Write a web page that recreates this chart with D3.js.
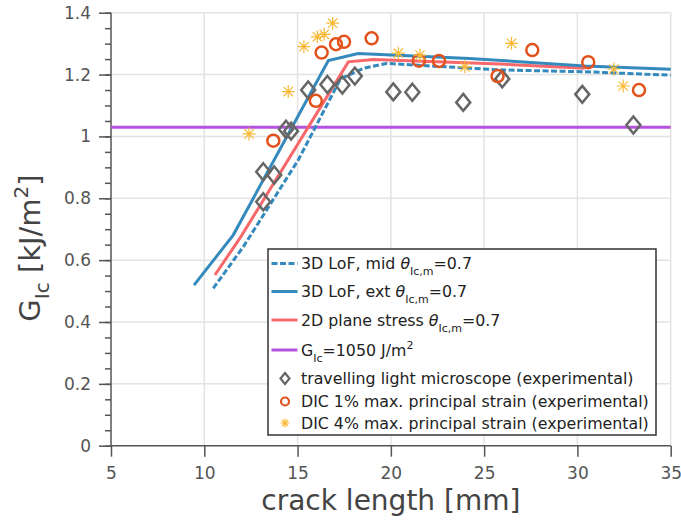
<!DOCTYPE html>
<html>
<head>
<meta charset="utf-8">
<script src="https://cdn.jsdelivr.net/npm/d3@7"></script>
<style>
  body { margin: 0; background: #fff; }
  svg { display: block; font-family: "DejaVu Sans", sans-serif; }
</style>
</head>
<body>
<div id="chart"></div>
<script>
// model curves (crack length in mm, G in kJ/m^2)
const midX = [10.48, 12.09, 15.04, 17.3, 18.52, 19.77, 25.85, 30.4, 35];
const midY = [0.509, 0.643, 0.924, 1.186, 1.220, 1.236, 1.215, 1.209, 1.198];
const extX = [9.45, 11.55, 16.65, 18.25, 24.2, 30.4, 35];
const extY = [0.519, 0.681, 1.245, 1.268, 1.252, 1.228, 1.217];
const psX = [10.57, 11.91, 17.72, 19.06, 25.85, 30.4];
const psY = [0.552, 0.671, 1.241, 1.249, 1.234, 1.220];
const gicValue = 1.03;

// experiments
const tlmX = [13.16, 13.16, 13.75, 14.38, 14.65, 15.57, 16.6, 17.4, 18.07, 20.13, 21.15, 23.88, 25.97, 30.26, 33.0];
const tlmY = [0.789, 0.886, 0.875, 1.023, 1.017, 1.150, 1.168, 1.166, 1.195, 1.144, 1.143, 1.110, 1.186, 1.136, 1.037];
const dic1X = [13.7, 15.98, 16.29, 17.06, 17.49, 18.97, 21.5, 22.58, 25.72, 27.58, 30.58, 33.3];
const dic1Y = [0.986, 1.115, 1.271, 1.298, 1.306, 1.317, 1.245, 1.244, 1.195, 1.279, 1.240, 1.150];
const dic4X = [12.4, 14.5, 15.34, 16.06, 16.43, 16.88, 20.4, 21.56, 23.97, 26.47, 31.95, 32.45];
const dic4Y = [1.008, 1.145, 1.290, 1.322, 1.330, 1.366, 1.269, 1.263, 1.225, 1.301, 1.218, 1.163];

const xTicks = [5, 10, 15, 20, 25, 30, 35];
const yTicks = [0, 0.2, 0.4, 0.6, 0.8, 1, 1.2, 1.4];

const W = 681, H = 520;
const blue = "#348abd", red = "#f8676a", purple = "#b452de",
      gray = "#666666", orange = "#e2521d", gold = "#f9b935";

const svg = d3.select("#chart").append("svg")
    .attr("width", W).attr("height", H);

const x = d3.scaleLinear().domain([5, 35]).range([111, 670.7]);
const y = d3.scaleLinear().domain([0, 1.4]).range([445.7, 12.7]);

// grid
svg.append("g").selectAll("line").data(xTicks.slice(1)).join("line")
    .attr("x1", d => x(d)).attr("x2", d => x(d))
    .attr("y1", y(0)).attr("y2", y(1.4))
    .attr("stroke", "#e3e3e3").attr("stroke-width", 1.5);
svg.append("g").selectAll("line").data(yTicks.slice(1)).join("line")
    .attr("x1", x(5)).attr("x2", x(35))
    .attr("y1", d => y(d)).attr("y2", d => y(d))
    .attr("stroke", "#e3e3e3").attr("stroke-width", 1.5);

// axes
const axisColor = "#555";
const xAxis = svg.append("g")
    .attr("transform", `translate(0,${y(0)})`)
    .call(d3.axisBottom(x).tickValues(xTicks).tickSize(11).tickPadding(10).tickFormat(d3.format("d")));
const yMinor = svg.append("g")
    .attr("transform", `translate(${x(5)},0)`)
    .call(d3.axisLeft(y).tickValues(d3.range(0, 1.401, 0.05)).tickSize(6).tickFormat(""));
yMinor.select(".domain").remove();
const yAxis = svg.append("g")
    .attr("transform", `translate(${x(5)},0)`)
    .call(d3.axisLeft(y).tickValues(yTicks).tickSize(12).tickPadding(8).tickFormat(d => d3.format("")(+d.toFixed(1))));
[xAxis, yAxis, yMinor].forEach(g => {
    g.selectAll("path, line").attr("stroke", axisColor).attr("stroke-width", 1.5);
    g.selectAll("text").attr("fill", "#555").style("font-size", "17px")
        .style("font-family", "DejaVu Sans, sans-serif");
});
xAxis.select(".domain").attr("d", `M${x(5)},0H${x(35)}`);
yAxis.select(".domain").attr("d", `M0,${y(0)}V${y(1.4)}`);

// axis labels
svg.append("text")
    .attr("x", (x(5) + x(35)) / 2).attr("y", 510)
    .attr("text-anchor", "middle").attr("fill", "#444")
    .style("font-size", "28px").text("crack length [mm]");

const yl = svg.append("text")
    .attr("transform", `translate(40,248) rotate(-90)`)
    .attr("text-anchor", "middle").attr("fill", "#444")
    .style("font-size", "29px");
yl.append("tspan").text("G");
yl.append("tspan").attr("dy", 9).style("font-size", "20px").text("Ic");
yl.append("tspan").attr("dy", -9).text(" [kJ/m");
yl.append("tspan").attr("dy", -12).style("font-size", "20px").text("2");
yl.append("tspan").attr("dy", 12).text("]");

// curves
const line = d3.line().x(d => x(d[0])).y(d => y(d[1]));
const zip = (a, b) => a.map((v, i) => [v, b[i]]);

svg.append("line")
    .attr("x1", x(5)).attr("x2", x(35))
    .attr("y1", y(gicValue)).attr("y2", y(gicValue))
    .attr("stroke", purple).attr("stroke-width", 3);

svg.append("path").datum(zip(psX, psY)).attr("d", line)
    .attr("fill", "none").attr("stroke", red).attr("stroke-width", 3);
svg.append("path").datum(zip(midX, midY)).attr("d", line)
    .attr("fill", "none").attr("stroke", blue).attr("stroke-width", 3)
    .attr("stroke-dasharray", "6,2.5");
svg.append("path").datum(zip(extX, extY)).attr("d", line)
    .attr("fill", "none").attr("stroke", blue).attr("stroke-width", 3);

// markers
function diamond(g, cx, cy) {
    g.append("path")
        .attr("d", `M${cx},${cy - 8.5}L${cx + 7},${cy}L${cx},${cy + 8.5}L${cx - 7},${cy}Z`)
        .attr("fill", "none").attr("stroke", gray).attr("stroke-width", 2.5);
}
function circle(g, cx, cy) {
    g.append("circle").attr("cx", cx).attr("cy", cy).attr("r", 6)
        .attr("fill", "none").attr("stroke", orange).attr("stroke-width", 2.5);
}
function star(g, cx, cy, r = 6.5) {
    const d = r * 0.72;
    g.append("path")
        .attr("d", `M${cx - r},${cy}H${cx + r}M${cx},${cy - r}V${cy + r}` +
                   `M${cx - d},${cy - d}L${cx + d},${cy + d}M${cx - d},${cy + d}L${cx + d},${cy - d}`)
        .attr("stroke", gold).attr("stroke-width", 1.2).attr("fill", "none");
}

const mk = svg.append("g");
tlmX.forEach((v, i) => diamond(mk, x(v), y(tlmY[i])));
dic1X.forEach((v, i) => circle(mk, x(v), y(dic1Y[i])));
dic4X.forEach((v, i) => star(mk, x(v), y(dic4Y[i])));

// legend
const lg = svg.append("g");
lg.append("rect").attr("x", 268).attr("y", 249).attr("width", 388).attr("height", 186)
    .attr("fill", "#fff").attr("stroke", "#333").attr("stroke-width", 1.5);

const legendRows = [
    { y: 263.5, kind: "dash", parts: [["3D LoF, mid ", ""], ["θ", "it"], ["Ic,m", "sub"], ["=0.7", ""]] },
    { y: 291.5, kind: "solid", parts: [["3D LoF, ext ", ""], ["θ", "it"], ["Ic,m", "sub"], ["=0.7", ""]] },
    { y: 320, kind: "red", parts: [["2D plane stress ", ""], ["θ", "it"], ["Ic,m", "sub"], ["=0.7", ""]] },
    { y: 350, kind: "purple", parts: [["G", ""], ["Ic", "sub"], ["=1050 J/m", ""], ["2", "sup"]] },
    { y: 378.5, kind: "diamond", parts: [["travelling light microscope (experimental)", ""]] },
    { y: 401.5, kind: "circle", parts: [["DIC 1% max. principal strain (experimental)", ""]] },
    { y: 423, kind: "star", parts: [["DIC 4% max. principal strain (experimental)", ""]] }
];

legendRows.forEach(r => {
    const x0 = 271.5, x1 = 297.5, mx = 285;
    if (r.kind === "dash" || r.kind === "solid" || r.kind === "red" || r.kind === "purple") {
        lg.append("line").attr("x1", x0).attr("x2", x1).attr("y1", r.y).attr("y2", r.y)
            .attr("stroke", r.kind === "red" ? red : r.kind === "purple" ? purple : blue)
            .attr("stroke-width", 3)
            .attr("stroke-dasharray", r.kind === "dash" ? "6,2.5" : null);
    } else if (r.kind === "diamond") {
        lg.append("path").attr("d", `M${mx},${r.y - 5.5}L${mx + 4.5},${r.y}L${mx},${r.y + 5.5}L${mx - 4.5},${r.y}Z`)
            .attr("fill", "none").attr("stroke", gray).attr("stroke-width", 2.2);
    } else if (r.kind === "circle") {
        lg.append("circle").attr("cx", mx).attr("cy", r.y).attr("r", 4)
            .attr("fill", "none").attr("stroke", orange).attr("stroke-width", 2.2);
    } else {
        star(lg, mx, r.y, 4.5);
    }
    const t = lg.append("text").attr("x", 301).attr("y", r.y + 5.5)
        .attr("fill", "#222").style("font-size", "15.8px");
    let shift = 0;
    r.parts.forEach(([s, st]) => {
        const ts = t.append("tspan").text(s);
        let target = 0;
        if (st === "sub") { target = 6; ts.style("font-size", "11px"); }
        if (st === "sup") { target = -7; ts.style("font-size", "11px"); }
        if (st === "it") ts.style("font-style", "italic");
        if (target !== shift) { ts.attr("dy", target - shift); shift = target; }
    });
});
</script>
</body>
</html>
